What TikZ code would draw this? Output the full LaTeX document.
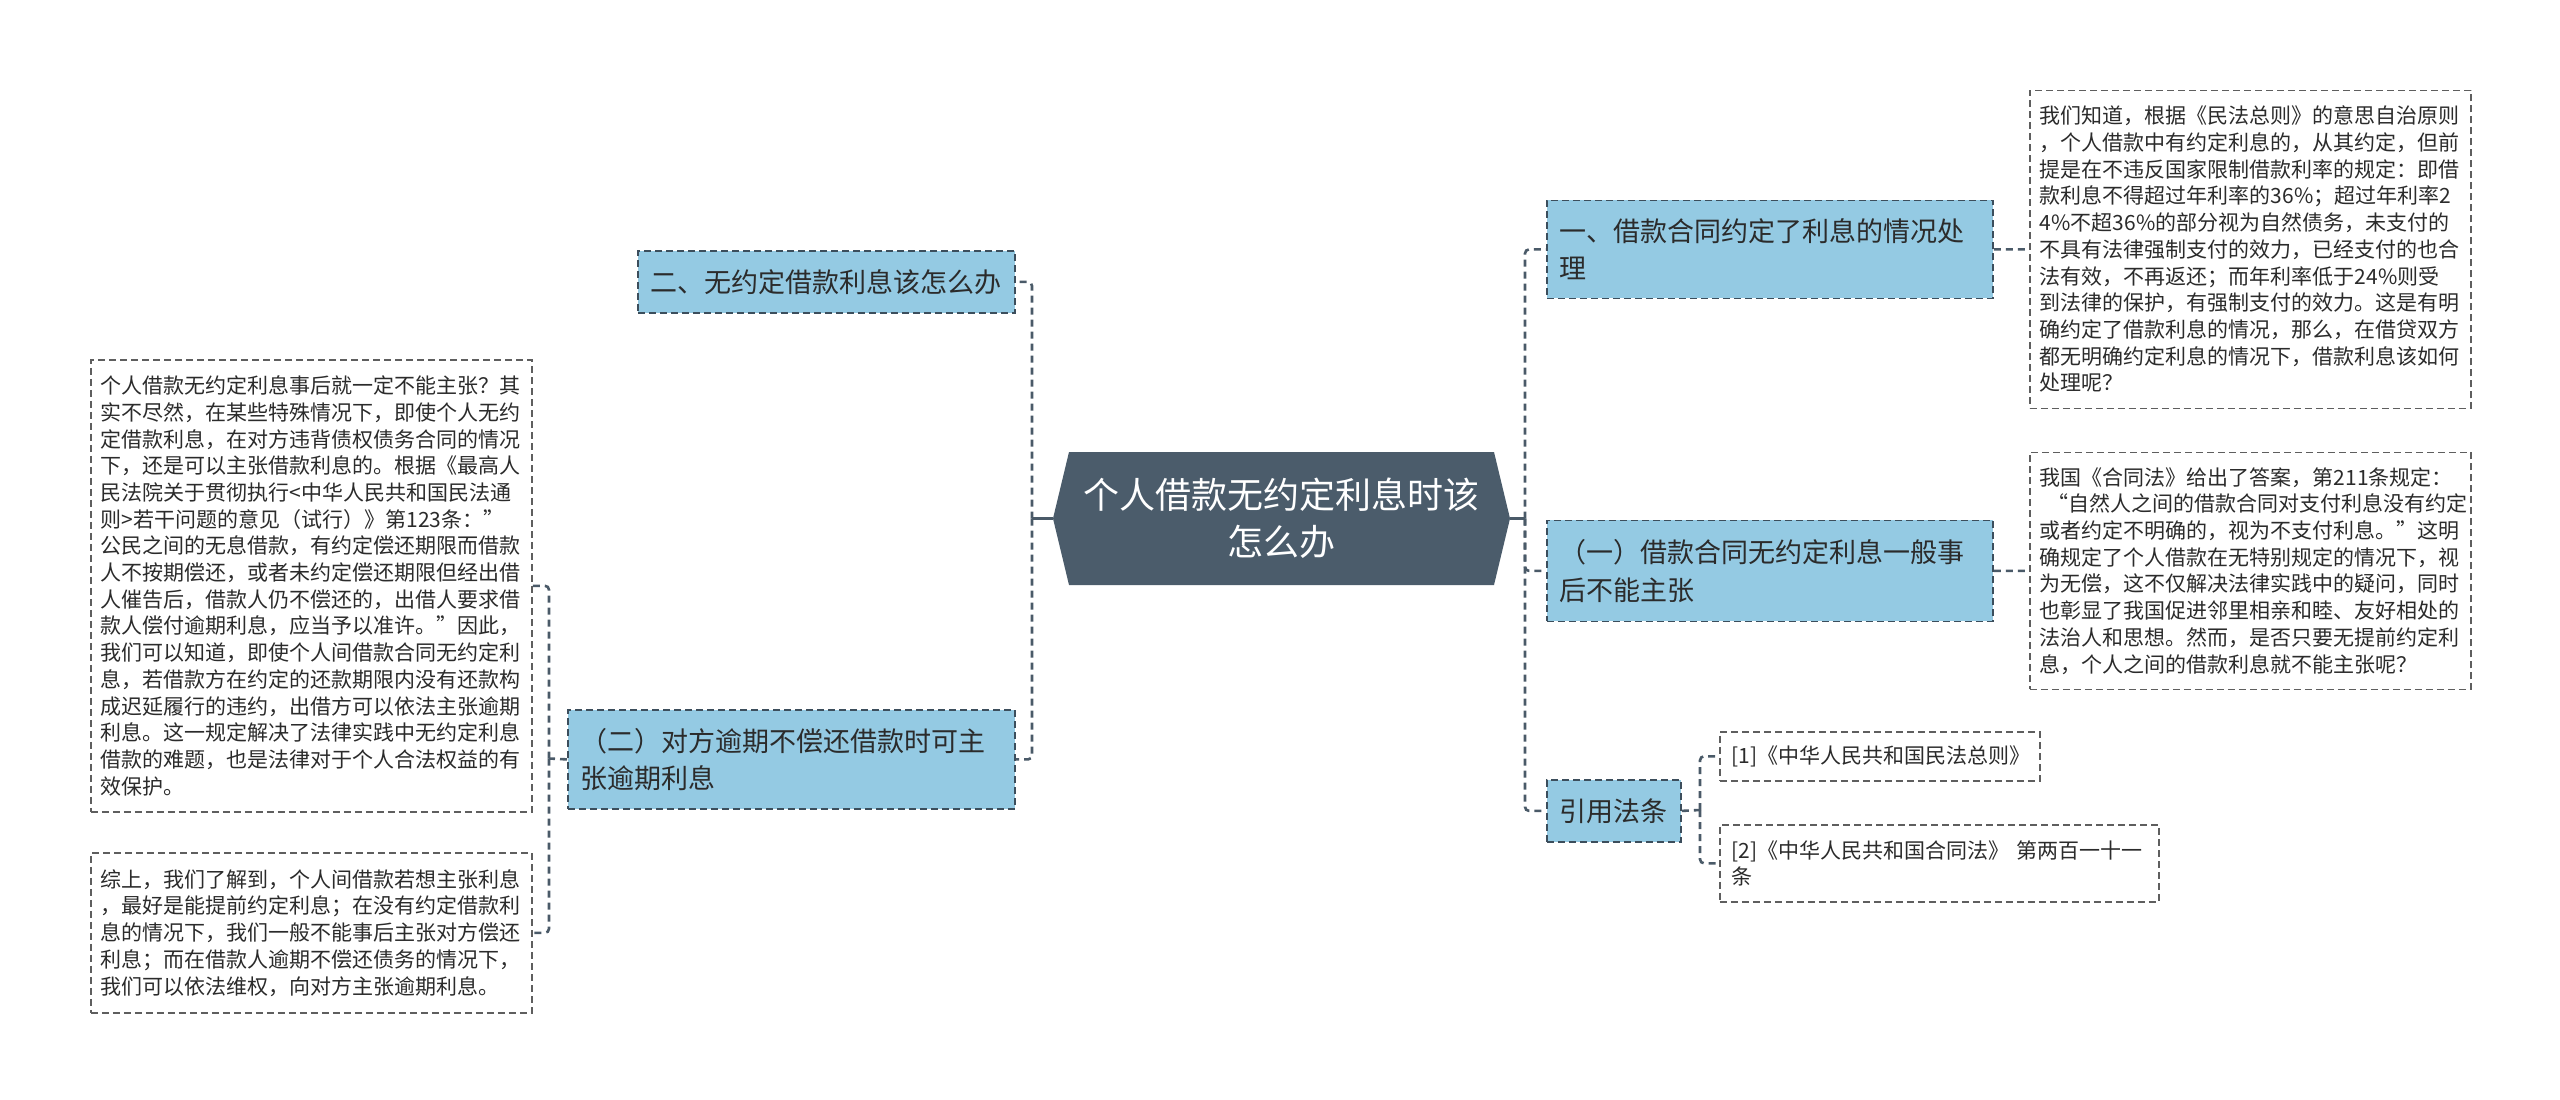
\documentclass[tikz,border=0pt]{standalone}
\usepackage{fontspec}
\setmainfont{Noto Sans CJK SC}
\definecolor{hexfill}{HTML}{4B5C6B}
\definecolor{bluefill}{HTML}{94CAE3}
\definecolor{blueedge}{HTML}{3C4E5C}
\definecolor{leafedge}{HTML}{5E5E5E}
\definecolor{linec}{HTML}{4A5A68}
\definecolor{txt}{HTML}{2B2B2B}
\begin{document}
\begin{tikzpicture}[x=1pt,y=-1pt,
  bluebox/.style={draw=blueedge,fill=bluefill,line width=1.8pt,dash pattern=on 7pt off 4pt,
    anchor=north west,inner xsep=13pt,inner ysep=0pt,align=left,text=txt,
    font=\fontsize{27}{37.5}\selectfont},
  leafbox/.style={draw=leafedge,fill=white,line width=1.6pt,dash pattern=on 7pt off 4pt,
    anchor=north west,inner xsep=10pt,inner ysep=0pt,align=left,text=txt,
    font=\fontsize{21}{26.7}\selectfont},
  citebox/.style={leafbox,inner xsep=12pt},
  dashc/.style={draw=linec,line width=2.6pt,dash pattern=on 7pt off 5pt,rounded corners=4pt},
  solidc/.style={draw=linec,line width=3pt}]
\useasboundingbox (0,0) rectangle (2560,1100);
\fill[white] (0,0) rectangle (2560,1100);

% center hexagon
\fill[hexfill] (1053,518.5) -- (1069,452) -- (1494,452) -- (1510,518.5) -- (1494,585) -- (1069,585) -- cycle;
\node[text=white,align=center,font=\fontsize{36}{47}\selectfont,minimum width=457pt,minimum height=133pt,inner sep=0pt]
  (c) at (1281.5,518.5) {个人借款无约定利息时该\\怎么办};

% right branches
\node[bluebox,text width=420pt,minimum height=98pt] (r1) at (1546,199.5) {一、借款合同约定了利息的情况处\\理};
\node[bluebox,text width=420pt,minimum height=101pt] (r2) at (1546,519.5) {（一）借款合同无约定利息一般事\\后不能主张};
\node[bluebox,text width=108pt,minimum height=62pt] (r3) at (1546,779) {引用法条};

% right leaves
\node[leafbox,text width=421pt,minimum height=318pt] (rl1) at (2029,89.5) {我们知道，根据《民法总则》的意思自治原则\\
，个人借款中有约定利息的，从其约定，但前\\
提是在不违反国家限制借款利率的规定：即借\\
款利息不得超过年利率的36\%；超过年利率2\\
4\%不超36\%的部分视为自然债务，未支付的\\
不具有法律强制支付的效力，已经支付的也合\\
法有效，不再返还；而年利率低于24\%则受\\
到法律的保护，有强制支付的效力。这是有明\\
确约定了借款利息的情况，那么，在借贷双方\\
都无明确约定利息的情况下，借款利息该如何\\
处理呢？};
\node[leafbox,text width=421pt,minimum height=237pt] (rl2) at (2029,451.5) {我国《合同法》给出了答案，第211条规定：\\
\hspace*{8pt}“自然人之间的借款合同对支付利息没有约定\\
或者约定不明确的，视为不支付利息。”这明\\
确规定了个人借款在无特别规定的情况下，视\\
为无偿，这不仅解决法律实践中的疑问，同时\\
也彰显了我国促进邻里相亲和睦、友好相处的\\
法治人和思想。然而，是否只要无提前约定利\\
息，个人之间的借款利息就不能主张呢？};

% citations
\node[citebox,text width=296pt,minimum height=49pt] (ct1) at (1719,731) {[1]《中华人民共和国民法总则》};
\node[citebox,text width=415pt,minimum height=77pt] (ct2) at (1719,824) {[2]《中华人民共和国合同法》 第两百一十一\\条};

% left branches
\node[bluebox,text width=351pt,minimum height=62pt] (lb1) at (637,250) {二、无约定借款利息该怎么办};
\node[bluebox,text width=421pt,minimum height=99pt] (lb2) at (567,709) {（二）对方逾期不偿还借款时可主\\张逾期利息};

% left leaves
\node[leafbox,text width=421pt,minimum height=452pt] (ll1) at (90,359) {个人借款无约定利息事后就一定不能主张？其\\
实不尽然，在某些特殊情况下，即使个人无约\\
定借款利息，在对方违背债权债务合同的情况\\
下，还是可以主张借款利息的。根据《最高人\\
民法院关于贯彻执行<中华人民共和国民法通\\
则>若干问题的意见（试行）》第123条：”\\
公民之间的无息借款，有约定偿还期限而借款\\
人不按期偿还，或者未约定偿还期限但经出借\\
人催告后，借款人仍不偿还的，出借人要求借\\
款人偿付逾期利息，应当予以准许。”因此，\\
我们可以知道，即使个人间借款合同无约定利\\
息，若借款方在约定的还款期限内没有还款构\\
成迟延履行的违约，出借方可以依法主张逾期\\
利息。这一规定解决了法律实践中无约定利息\\
借款的难题，也是法律对于个人合法权益的有\\
效保护。};
\node[leafbox,text width=421pt,minimum height=160pt] (ll2) at (90,852) {综上，我们了解到，个人间借款若想主张利息\\
，最好是能提前约定利息；在没有约定借款利\\
息的情况下，我们一般不能事后主张对方偿还\\
利息；而在借款人逾期不偿还债务的情况下，\\
我们可以依法维权，向对方主张逾期利息。};

% connectors
\coordinate (jL) at (1032,518.5);
\coordinate (jR) at (1525,518.5);
\coordinate (j3) at (1700,810);
\coordinate (j4) at (549,758.5);
\draw[solidc] (c.west) -- (jL);
\draw[solidc] (c.east) -- (jR);
\draw[dashc] (jL) |- (lb1.east);
\draw[dashc] (jL) |- (lb2.east);
\draw[dashc] (jR) |- (r1.west);
\draw[dashc] (jR) |- (r2.west);
\draw[dashc] (jR) |- (r3.west);
\draw[dashc] (r1.east) -- (rl1.west);
\draw[dashc] (r2.east) -- (rl2.west);
\draw[dashc] (r3.east) -- (j3);
\draw[dashc] (j3) |- (ct1.west);
\draw[dashc] (j3) |- (ct2.west);
\draw[dashc] (lb2.west) -- (j4);
\draw[dashc] (j4) |- (ll1.east);
\draw[dashc] (j4) |- (ll2.east);
\end{tikzpicture}
\end{document}
